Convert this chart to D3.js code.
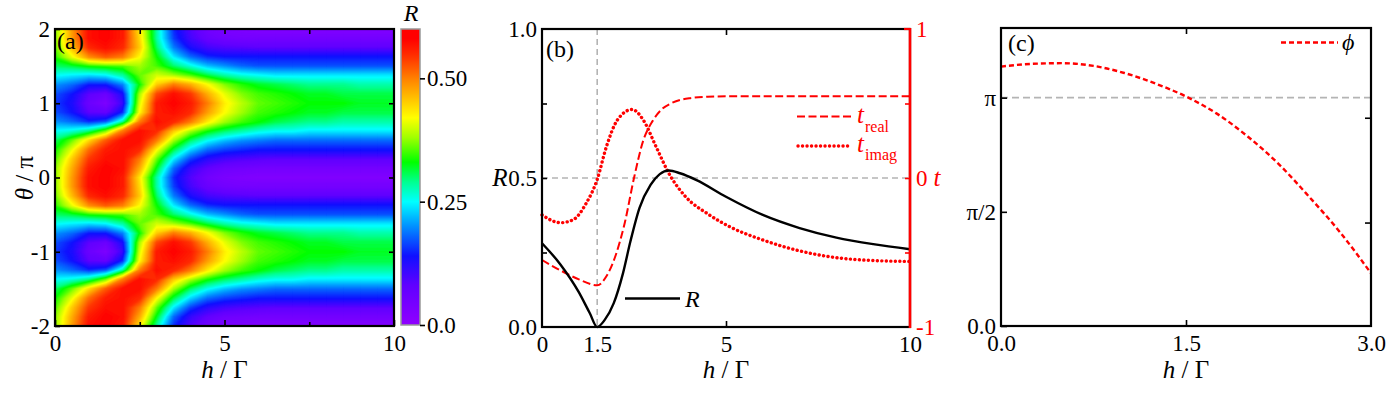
<!DOCTYPE html>
<html>
<head>
<meta charset="utf-8">
<script src="https://cdn.jsdelivr.net/npm/d3@7"></script>
<style>
  body { margin: 0; background: #fff; }
  svg text { font-family: "Liberation Serif", "Times New Roman", "DejaVu Serif", serif; }
</style>
</head>
<body>
<svg id="fig" width="1388" height="393" font-family="Liberation Serif, Times New Roman, serif"></svg>
<script>
// ---------- data ----------
// (a) R(h, theta), one period in theta/pi (the map repeats every 2)
var hGrid = [0,0.5,1,1.5,2,2.5,3,3.5,4,4.5,5,5.5,6,6.5,7,7.5,8,8.5,9,9.5,10];
var thetaPeriod = [-1,-0.875,-0.75,-0.625,-0.5,-0.375,-0.25,-0.125,0,0.125,0.25,0.375,0.5,0.625,0.75,0.875];
var rMap = [
  [0.16,0.13,0.06,0.03,0.11,0.40,0.56,0.58,0.56,0.50,0.43,0.39,0.36,0.35,0.34,0.33,0.33,0.33,0.32,0.32,0.32],
  [0.17,0.14,0.08,0.06,0.13,0.38,0.53,0.57,0.54,0.47,0.41,0.37,0.35,0.34,0.33,0.32,0.32,0.31,0.31,0.31,0.31],
  [0.20,0.18,0.14,0.14,0.19,0.33,0.45,0.50,0.47,0.42,0.37,0.34,0.32,0.31,0.30,0.29,0.29,0.29,0.28,0.28,0.28],
  [0.25,0.24,0.23,0.24,0.28,0.36,0.40,0.38,0.35,0.31,0.28,0.26,0.25,0.24,0.24,0.24,0.24,0.24,0.24,0.24,0.24],
  [0.30,0.31,0.33,0.34,0.35,0.38,0.35,0.30,0.26,0.22,0.20,0.18,0.17,0.17,0.17,0.17,0.17,0.17,0.17,0.17,0.17],
  [0.34,0.41,0.49,0.52,0.50,0.42,0.33,0.24,0.18,0.15,0.14,0.14,0.14,0.14,0.14,0.14,0.14,0.14,0.14,0.14,0.14],
  [0.36,0.46,0.55,0.57,0.55,0.45,0.30,0.19,0.13,0.10,0.09,0.085,0.08,0.08,0.08,0.08,0.08,0.08,0.08,0.08,0.08],
  [0.37,0.48,0.57,0.58,0.56,0.44,0.28,0.16,0.10,0.065,0.05,0.045,0.045,0.045,0.045,0.045,0.045,0.045,0.045,0.045,0.045],
  [0.37,0.48,0.57,0.58,0.56,0.43,0.28,0.15,0.09,0.05,0.035,0.03,0.025,0.025,0.025,0.025,0.025,0.025,0.025,0.025,0.025],
  [0.37,0.47,0.56,0.58,0.57,0.47,0.32,0.18,0.11,0.075,0.055,0.05,0.045,0.045,0.045,0.045,0.045,0.045,0.045,0.045,0.045],
  [0.35,0.45,0.54,0.57,0.57,0.50,0.36,0.24,0.16,0.12,0.10,0.09,0.085,0.08,0.08,0.08,0.08,0.08,0.08,0.08,0.08],
  [0.33,0.41,0.51,0.56,0.57,0.55,0.42,0.31,0.23,0.18,0.16,0.15,0.14,0.14,0.14,0.14,0.14,0.14,0.14,0.14,0.14],
  [0.30,0.36,0.44,0.52,0.57,0.57,0.50,0.38,0.30,0.25,0.22,0.20,0.19,0.18,0.18,0.18,0.18,0.18,0.18,0.18,0.18],
  [0.25,0.26,0.29,0.36,0.50,0.57,0.55,0.45,0.38,0.33,0.30,0.28,0.26,0.25,0.25,0.24,0.24,0.24,0.24,0.24,0.24],
  [0.20,0.18,0.15,0.17,0.28,0.50,0.57,0.55,0.50,0.43,0.38,0.35,0.33,0.31,0.30,0.29,0.29,0.28,0.28,0.28,0.28],
  [0.17,0.14,0.08,0.07,0.15,0.42,0.56,0.57,0.55,0.48,0.42,0.38,0.35,0.34,0.33,0.32,0.32,0.31,0.31,0.31,0.31]
];
var colorStops = [0, 0.08, 0.14, 0.20, 0.25, 0.29, 0.33, 0.38, 0.42, 0.46, 0.50, 0.545, 0.58];
var colorList  = ["#9000ff","#6000ff","#1010ff","#0090ff","#00ffff","#00ff90","#00ff00","#a0ff00","#ffff00","#ffc000","#ff8000","#ff3000","#ff0000"];

// (b) R, t_real, t_imag against h
var hR    = [0,0.5,1,1.3,1.5,1.7,1.95,2.2,2.4,2.65,2.95,3.2,3.45,3.75,4.2,5,6,7,8,9,10];
var rLine = [0.281,0.21,0.117,0.046,0.0,0.023,0.08,0.18,0.286,0.40,0.477,0.513,0.525,0.516,0.493,0.437,0.376,0.332,0.30,0.278,0.261];
var hTr   = [0,0.5,1,1.5,1.75,2,2.25,2.5,2.75,3,3.25,3.5,4,4.5,5,6,7,8,9,10];
var tReal = [-0.55,-0.62,-0.68,-0.72,-0.66,-0.52,-0.30,0.0,0.25,0.38,0.46,0.50,0.535,0.545,0.548,0.548,0.548,0.548,0.548,0.548];
var hTi   = [0,0.5,0.85,1.2,1.5,1.75,2.05,2.45,2.75,3.1,3.45,3.9,4.5,5.1,6,6.9,7.8,8.7,10];
var tImag = [-0.248,-0.30,-0.28,-0.17,-0.01,0.21,0.39,0.46,0.39,0.21,0.03,-0.125,-0.24,-0.327,-0.416,-0.483,-0.528,-0.55,-0.56];

// (c) phi / pi against h
var hPhi = [0,0.25,0.5,0.75,1.0,1.25,1.5,1.75,2.0,2.25,2.5,2.75,3.0];
var phi  = [1.136,1.148,1.151,1.139,1.108,1.062,1.005,0.93,0.83,0.71,0.565,0.41,0.231];

// ---------- drawing ----------
var svg = d3.select("#fig");
var FS = 23;

function styleAxis(g, color) {
  g.select(".domain").remove();
  g.attr("font-family", null);
  g.selectAll(".tick line").attr("stroke", color || "#000").attr("stroke-width", 1.6);
  g.selectAll(".tick text").attr("font-size", FS).attr("fill", color || "#000");
  return g;
}
function addAxis(gen, tx, ty, color) {
  var g = svg.append("g").attr("transform", "translate(" + tx + "," + ty + ")").call(gen);
  return styleAxis(g, color);
}
function frame(x0, y0, x1, y1) {
  svg.append("rect").attr("x", x0).attr("y", y0).attr("width", x1 - x0).attr("height", y1 - y0)
    .attr("fill", "none").attr("stroke", "#000").attr("stroke-width", 2.2);
}
function hLabel(cx) {
  var t = svg.append("text").attr("x", cx).attr("y", 378).attr("text-anchor", "middle").attr("font-size", 25);
  t.append("tspan").attr("font-style", "italic").text("h");
  t.append("tspan").text(" / Γ");
}

// ===== panel (a) =====
var A = {x0: 55, x1: 394, y0: 29, y1: 326};
var xA = d3.scaleLinear().domain([0, 10]).range([A.x0, A.x1]);
var yA = d3.scaleLinear().domain([-2, 2]).range([A.y1, A.y0]);
var cmap = d3.scaleLinear().domain(colorStops).range(colorList).clamp(true);

svg.append("clipPath").attr("id", "clipA").append("rect")
  .attr("x", A.x0).attr("y", A.y0).attr("width", A.x1 - A.x0).attr("height", A.y1 - A.y0);

// full theta range, built from the one-period table
var thetaFull = d3.range(-2, 2.0001, 0.125);
var dTheta = 0.125, dH = hGrid[1] - hGrid[0];
var values = [];
thetaFull.forEach(function(th) {
  var k = thetaPeriod.findIndex(function(tp) {
    var d = (th - tp) / 2; return Math.abs(d - Math.round(d)) < 1e-6;
  });
  rMap[k].forEach(function(v) { values.push(v); });
});
var thresholds = d3.range(0, 0.6, 0.004);
var contours = d3.contours().size([hGrid.length, thetaFull.length]).thresholds(thresholds)(values);
var projA = d3.geoTransform({
  point: function(x, y) {
    this.stream.point(xA(hGrid[0] + (x - 0.5) * dH), yA(thetaFull[0] + (y - 0.5) * dTheta));
  }
});
var pathA = d3.geoPath(projA);
svg.append("g").attr("clip-path", "url(#clipA)")
  .selectAll("path").data(contours).join("path")
  .attr("d", pathA)
  .attr("fill", function(d) { return cmap(d.value + 0.002); })
  .attr("stroke", function(d) { return cmap(d.value + 0.002); })
  .attr("stroke-width", 0.7);

frame(A.x0, A.y0, A.x1, A.y1);
addAxis(d3.axisBottom(xA).tickValues([0, 5, 10]).tickSize(-6).tickPadding(9).tickFormat(String), 0, A.y1);
addAxis(d3.axisBottom(xA).tickValues([2.5, 7.5]).tickSize(-4).tickFormat(""), 0, A.y1);
addAxis(d3.axisTop(xA).tickValues([2.5, 5, 7.5]).tickSize(-5).tickFormat(""), 0, A.y0);
addAxis(d3.axisLeft(yA).tickValues([-2, -1, 0, 1, 2]).tickSize(-5).tickPadding(5).tickFormat(String), A.x0, 0);
addAxis(d3.axisRight(yA).tickValues([-1, 0, 1]).tickSize(-5).tickFormat(""), A.x1, 0);

svg.append("text").attr("font-size", FS + 2).attr("text-anchor", "middle")
  .attr("transform", "translate(33,178) rotate(-90)")
  .call(function(t) {
    t.append("tspan").attr("font-style", "italic").text("θ");
    t.append("tspan").text(" / π");
  });
svg.append("text").attr("x", 57).attr("y", 49).attr("font-size", 24).text("(a)");
hLabel((A.x0 + A.x1) / 2);

// colorbar
var CB = {x0: 401, x1: 420, y0: 29, y1: 325};
var cScale = d3.scaleLinear().domain([0, 0.6]).range([CB.y1, CB.y0]);
var grad = svg.append("defs").append("linearGradient").attr("id", "cbGrad")
  .attr("x1", 0).attr("y1", 1).attr("x2", 0).attr("y2", 0);
d3.range(0, 0.6001, 0.01).forEach(function(v) {
  grad.append("stop").attr("offset", v / 0.6).attr("stop-color", cmap(v));
});
svg.append("rect").attr("x", CB.x0).attr("y", CB.y0).attr("width", CB.x1 - CB.x0).attr("height", CB.y1 - CB.y0)
  .attr("fill", "url(#cbGrad)").attr("stroke", "#999").attr("stroke-width", 1.5);
addAxis(d3.axisRight(cScale).tickValues([0, 0.25, 0.5]).tickSize(5).tickPadding(2)
  .tickFormat(function(d) { return d === 0 ? "0.0" : d3.format(".2f")(d); }), CB.x1, 0);
svg.append("text").attr("x", 411).attr("y", 21).attr("text-anchor", "middle")
  .attr("font-size", 24).attr("font-style", "italic").text("R");

// ===== panel (b) =====
var B = {x0: 542, x1: 910, y0: 29, y1: 327};
var xB = d3.scaleLinear().domain([0, 10]).range([B.x0, B.x1]);
var yB = d3.scaleLinear().domain([0, 1]).range([B.y1, B.y0]);
var tB = d3.scaleLinear().domain([-1, 1]).range([B.y1, B.y0]);

svg.append("line").attr("x1", B.x0).attr("x2", B.x1).attr("y1", yB(0.5)).attr("y2", yB(0.5))
  .attr("stroke", "#b4b4b4").attr("stroke-width", 1.6).attr("stroke-dasharray", "6,4");
svg.append("line").attr("x1", xB(1.5)).attr("x2", xB(1.5)).attr("y1", B.y0).attr("y2", B.y1)
  .attr("stroke", "#b4b4b4").attr("stroke-width", 1.6).attr("stroke-dasharray", "6,4");

var lineR = d3.line().x(function(d, i) { return xB(hR[i]); }).y(function(d) { return yB(d); }).curve(d3.curveMonotoneX);
var lineTr = d3.line().x(function(d, i) { return xB(hTr[i]); }).y(function(d) { return tB(d); }).curve(d3.curveMonotoneX);
var lineTi = d3.line().x(function(d, i) { return xB(hTi[i]); }).y(function(d) { return tB(d); }).curve(d3.curveMonotoneX);

svg.append("path").attr("d", lineTr(tReal)).attr("fill", "none").attr("stroke", "#ff0000")
  .attr("stroke-width", 2).attr("stroke-dasharray", "8,3.5");
svg.append("path").attr("d", lineTi(tImag)).attr("fill", "none").attr("stroke", "#ff0000")
  .attr("stroke-width", 3.4).attr("stroke-linecap", "round").attr("stroke-dasharray", "0.1,4.4");
svg.append("path").attr("d", lineR(rLine)).attr("fill", "none").attr("stroke", "#000")
  .attr("stroke-width", 2.4);

frame(B.x0, B.y0, B.x1, B.y1);
svg.append("line").attr("x1", B.x1).attr("x2", B.x1).attr("y1", B.y0 - 1).attr("y2", B.y1 + 1)
  .attr("stroke", "#ff0000").attr("stroke-width", 2.6);
svg.append("line").attr("x1", B.x1 - 6).attr("x2", B.x1).attr("y1", B.y0).attr("y2", B.y0)
  .attr("stroke", "#ff0000").attr("stroke-width", 2.2);

addAxis(d3.axisBottom(xB).tickValues([0, 1.5, 5, 10]).tickSize(0).tickPadding(9).tickFormat(String), 0, B.y1);
addAxis(d3.axisBottom(xB).tickValues([5]).tickSize(-6).tickFormat(""), 0, B.y1);
addAxis(d3.axisTop(xB).tickValues([5]).tickSize(-6).tickFormat(""), 0, B.y0);
addAxis(d3.axisLeft(yB).tickValues([0, 0.5, 1]).tickSize(0).tickPadding(5).tickFormat(d3.format(".1f")), B.x0, 0);
addAxis(d3.axisLeft(yB).tickValues([0.25, 0.5, 0.75]).tickSize(-5).tickFormat(""), B.x0, 0);
addAxis(d3.axisRight(tB).tickValues([-1, 0, 1]).tickSize(0).tickPadding(6).tickFormat(String), B.x1, 0, "#ff0000");
addAxis(d3.axisRight(tB).tickValues([-0.5, 0, 0.5]).tickSize(-5).tickFormat(""), B.x1, 0, "#ff0000");

svg.append("text").attr("x", 500).attr("y", 186).attr("font-size", 25).attr("font-style", "italic")
  .attr("text-anchor", "middle").text("R");
svg.append("text").attr("x", 937).attr("y", 186).attr("font-size", 25).attr("font-style", "italic")
  .attr("text-anchor", "middle").attr("fill", "#ff0000").text("t");
svg.append("text").attr("x", 546).attr("y", 57).attr("font-size", 24).text("(b)");

// legend (b)
svg.append("line").attr("x1", 797).attr("x2", 852).attr("y1", 116.5).attr("y2", 116.5)
  .attr("stroke", "#ff0000").attr("stroke-width", 2).attr("stroke-dasharray", "8,3.5");
svg.append("line").attr("x1", 798).attr("x2", 852).attr("y1", 146).attr("y2", 146)
  .attr("stroke", "#ff0000").attr("stroke-width", 3.4).attr("stroke-linecap", "round").attr("stroke-dasharray", "0.1,4.4");
svg.append("text").attr("x", 857).attr("y", 123).attr("font-size", 25).attr("font-style", "italic").attr("fill", "#ff0000").text("t");
svg.append("text").attr("x", 865).attr("y", 132).attr("font-size", 16).attr("fill", "#ff0000").text("real");
svg.append("text").attr("x", 857).attr("y", 152).attr("font-size", 25).attr("font-style", "italic").attr("fill", "#ff0000").text("t");
svg.append("text").attr("x", 865).attr("y", 160).attr("font-size", 16).attr("fill", "#ff0000").text("imag");
svg.append("line").attr("x1", 625).attr("x2", 680).attr("y1", 298.5).attr("y2", 298.5)
  .attr("stroke", "#000").attr("stroke-width", 2.4);
svg.append("text").attr("x", 685).attr("y", 307).attr("font-size", 24).attr("font-style", "italic").text("R");
hLabel((B.x0 + B.x1) / 2);

// ===== panel (c) =====
var C = {x0: 1001, x1: 1371, y0: 28, y1: 326};
var xC = d3.scaleLinear().domain([0, 3]).range([C.x0, C.x1]);
var yC = d3.scaleLinear().domain([0, 1.305]).range([C.y1, C.y0]);

svg.append("line").attr("x1", C.x0).attr("x2", C.x1).attr("y1", yC(1)).attr("y2", yC(1))
  .attr("stroke", "#b4b4b4").attr("stroke-width", 1.6).attr("stroke-dasharray", "7,4");
var linePhi = d3.line().x(function(d, i) { return xC(hPhi[i]); }).y(function(d) { return yC(d); }).curve(d3.curveMonotoneX);
svg.append("path").attr("d", linePhi(phi)).attr("fill", "none").attr("stroke", "#ff0000")
  .attr("stroke-width", 2.4).attr("stroke-dasharray", "5,3");

frame(C.x0, C.y0, C.x1, C.y1);
addAxis(d3.axisBottom(xC).tickValues([0, 1.5, 3]).tickSize(0).tickPadding(9).tickFormat(d3.format(".1f")), 0, C.y1);
addAxis(d3.axisBottom(xC).tickValues([1.5]).tickSize(-6).tickFormat(""), 0, C.y1);
addAxis(d3.axisTop(xC).tickValues([1.5]).tickSize(-6).tickFormat(""), 0, C.y0);
addAxis(d3.axisLeft(yC).tickValues([0, 0.5, 1]).tickSize(-6).tickPadding(5)
  .tickFormat(function(d) { return d === 0 ? "0.0" : (d === 1 ? "π" : "π/2"); }), C.x0, 0);
addAxis(d3.axisRight(yC).tickValues([0.453, 0.912]).tickSize(-6).tickFormat(""), C.x1, 0);

svg.append("text").attr("x", 1008).attr("y", 51).attr("font-size", 24).text("(c)");
svg.append("line").attr("x1", 1281).attr("x2", 1338).attr("y1", 42.5).attr("y2", 42.5)
  .attr("stroke", "#ff0000").attr("stroke-width", 2.4).attr("stroke-dasharray", "5,3");
svg.append("text").attr("x", 1342).attr("y", 50).attr("font-size", 24).attr("font-style", "italic").text("ϕ");
hLabel((C.x0 + C.x1) / 2);
</script>
</body>
</html>
